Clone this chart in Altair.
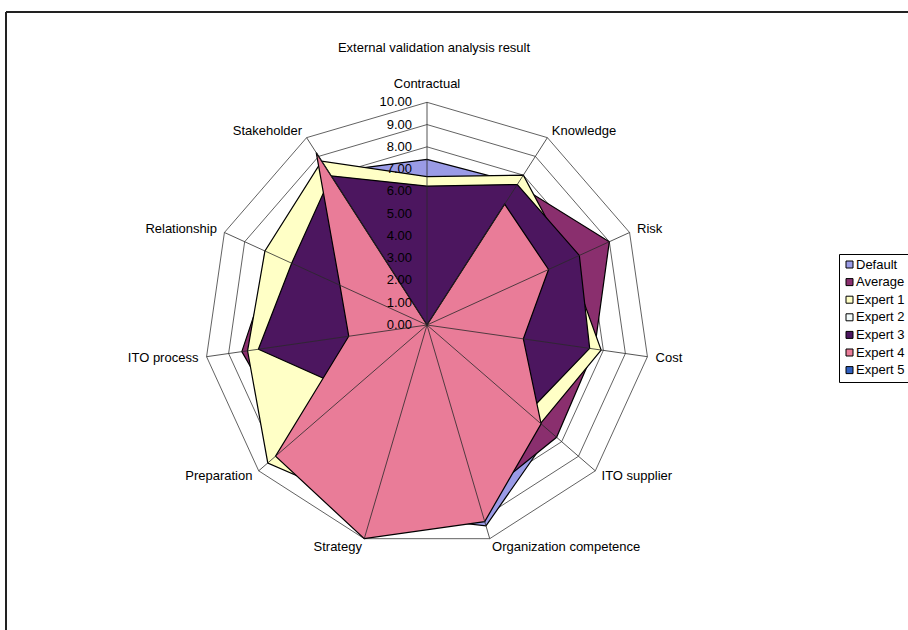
import altair as alt
import pandas as pd

# ---- data -------------------------------------------------------------
axes = ["Contractual", "Knowledge", "Risk", "Cost", "ITO supplier",
        "Organization competence", "Strategy", "Preparation", "ITO process",
        "Relationship", "Stakeholder"]

series_names = ["Default", "Average", "Expert 1", "Expert 2",
                "Expert 3", "Expert 4", "Expert 5"]

default = [7.44, 7.57, 7.80, 7.50, 7.37, 9.40, 8.80, 8.50, 7.80, 7.30, 8.15]
average = [6.30, 7.50, 9.00, 7.60, 7.70, 8.20, 8.50, 7.95, 8.40, 7.55, 8.00]
expert_1 = [6.66, 8.00, 7.00, 7.90, 6.75, 8.50, 8.60, 9.46, 8.14, 8.00, 8.75]
expert_2 = [0.00, 0.00, 0.00, 0.00, 0.00, 0.00, 0.00, 0.00, 0.00, 0.00, 0.00]
expert_3 = [6.24, 7.50, 7.52, 7.38, 6.00, 7.00, 6.00, 4.50, 7.65, 6.68, 7.96]
expert_4 = [0.00, 6.45, 6.00, 4.37, 6.78, 9.20, 10.00, 9.00, 3.55, 4.30, 9.20]
expert_5 = [0.00, 0.00, 0.00, 0.00, 0.00, 0.00, 0.00, 0.00, 0.00, 0.00, 0.00]

series_values = [default, average, expert_1, expert_2, expert_3, expert_4, expert_5]
series_colors = ["#9A9BE6", "#8A2F6E", "#FFFFC6", "#F2FBFB",
                 "#4C165F", "#E97C98", "#2F5FC0"]

tick_values = [0, 1, 2, 3, 4, 5, 6, 7, 8, 9, 10]
chart_title = "External validation analysis result"

# ---- layout -----------------------------------------------------------
FONT = "Liberation Sans, Arial, sans-serif"
FS = 13
PAD_L, PAD_T = 6, 12
W, H = 902, 618
CX, CY = 421, 313          # centre of the radar inside the plot area (px)
UNIT = 22.27               # pixels per score unit
N = len(axes)

x_scale = alt.Scale(domain=[-CX / UNIT, (W - CX) / UNIT], nice=False, zero=False)
y_scale = alt.Scale(domain=[-(H - CY) / UNIT, CY / UNIT], nice=False, zero=False)

ANG = f"2 * PI * datum.i / {N}"


def polar(r_expr):
    return {"px": f"({r_expr}) * sin({ANG})", "py": f"({r_expr}) * cos({ANG})"}


# long tables built from the arrays above
scores = pd.DataFrame([
    {"series": s, "axis": a, "i": i, "value": v}
    for s, vals in zip(series_names, series_values)
    for i, (a, v) in enumerate(zip(axes, vals))
])
rings = pd.DataFrame([{"ring": k, "i": i} for k in tick_values[1:] for i in range(N)])
spokes = pd.DataFrame({"i": list(range(N)), "axis": axes})
ticks = pd.DataFrame({"tick": tick_values})
frame = pd.DataFrame({"edge": ["frame"]})

X = lambda f: alt.X(f, type="quantitative", scale=x_scale, axis=None)
Y = lambda f: alt.Y(f, type="quantitative", scale=y_scale, axis=None)

# grid rings
ring_layer = alt.Chart(rings).transform_calculate(**polar("datum.ring")).mark_line(
    interpolate="linear-closed", color="#3a3a3a", strokeWidth=0.8
).encode(x=X("px"), y=Y("py"), detail="ring:N", order="i:Q")

# one filled polygon per series, drawn in series order
fill_scale = alt.Scale(domain=series_names, range=series_colors)
legend = alt.Legend(
    title=None, orient="none", legendX=833, legendY=242,
    symbolType="square", symbolSize=49, symbolStrokeColor="black",
    symbolStrokeWidth=1, labelFont=FONT, labelFontSize=FS, labelColor="black",
    strokeColor="black", fillColor="white", padding=4, rowPadding=3.6,
    labelOffset=0, symbolOpacity=1,
)
poly_layers = []
for s in series_names:
    poly_layers.append(
        alt.Chart(scores).transform_filter(alt.datum.series == s)
        .transform_calculate(**polar("datum.value"))
        .mark_line(interpolate="linear-closed", stroke="black", strokeWidth=1.2)
        .encode(x=X("px"), y=Y("py"), order="i:Q",
                fill=alt.Fill("series:N", scale=fill_scale, legend=legend))
    )

# spokes from the centre to the outer ring
spoke_layer = alt.Chart(spokes).transform_calculate(
    x0="0", y0="0", **polar("10")
).mark_rule(color="#2a2a2a", strokeWidth=0.8).encode(
    x=X("x0"), y=Y("y0"), x2="px:Q", y2="py:Q"
)

# value labels along the first spoke
tick_layer = alt.Chart(ticks).transform_calculate(
    x0="0", lbl="format(datum.tick, '.2f')"
).mark_text(align="right", baseline="middle", dx=-15, font=FONT, fontSize=FS,
            color="black").encode(x=X("x0"), y=Y("tick"), text="lbl:N")

# category labels around the outside
SIN = f"sin({ANG})"
label_side = alt.Chart(spokes).transform_calculate(**polar("10.37"), s=SIN)
label_layers = [
    label_side.transform_filter("datum.s > 0.1").mark_text(
        align="left", baseline="middle", font=FONT, fontSize=FS, color="black"
    ).encode(x=X("px"), y=Y("py"), text="axis:N"),
    label_side.transform_filter("datum.s < -0.1").mark_text(
        align="right", baseline="middle", font=FONT, fontSize=FS, color="black"
    ).encode(x=X("px"), y=Y("py"), text="axis:N"),
    alt.Chart(spokes).transform_calculate(**polar("10.82"), s=SIN)
    .transform_filter("abs(datum.s) <= 0.1").mark_text(
        align="center", baseline="middle", font=FONT, fontSize=FS, color="black"
    ).encode(x=X("px"), y=Y("py"), text="axis:N"),
]

# chart-area border (left and top edges fall inside the page)
frame_left = alt.Chart(frame).mark_rule(color="#222222", strokeWidth=2).encode(
    x=alt.value(0), y=alt.value(0), y2=alt.value(H))
frame_top = alt.Chart(frame).mark_rule(color="#222222", strokeWidth=2).encode(
    x=alt.value(0), x2=alt.value(W), y=alt.value(0))

chart = alt.layer(
    ring_layer, *poly_layers, spoke_layer, tick_layer, *label_layers,
    frame_left, frame_top,
).properties(
    width=W, height=H,
    title=alt.TitleParams(chart_title, font=FONT, fontSize=FS, fontWeight="normal",
                          color="black", anchor="middle", dx=-23, offset=-50,
                          baseline="middle"),
    autosize=alt.AutoSizeParams(type="none"),
    padding={"left": PAD_L, "top": PAD_T, "right": 0, "bottom": 0},
).configure_view(stroke=None).configure(background="white")

chart.save("out.html", embed_options={"renderer": "svg", "actions": False})
